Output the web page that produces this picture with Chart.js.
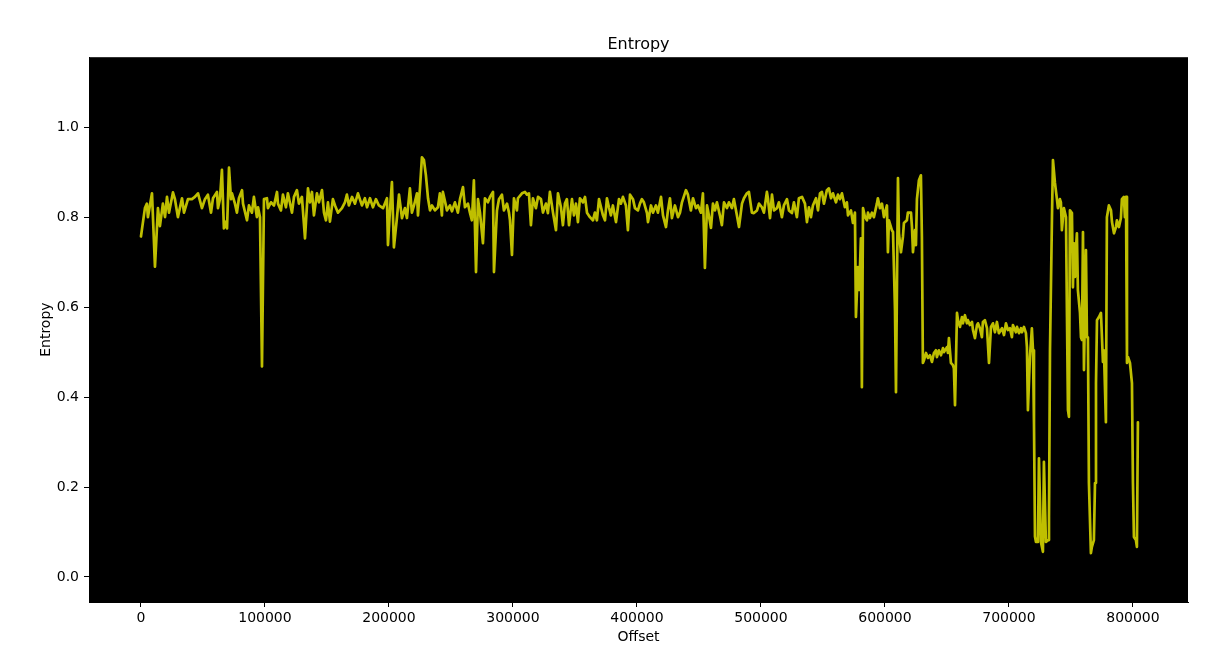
<!DOCTYPE html>
<html>
<head>
<meta charset="utf-8">
<script src="https://cdn.jsdelivr.net/npm/chart.js@4"></script>
<style>
html,body{margin:0;padding:0;background:#fff;}
#wrap{width:1229px;height:663px;}
</style>
</head>
<body>
<div id="wrap"><canvas id="c" width="1229" height="663"></canvas></div>
<script>
const chartTitle = "Entropy";
const xLabel = "Offset";
const yLabel = "Entropy";
const xTicks = [0, 100000, 200000, 300000, 400000, 500000, 600000, 700000, 800000];
const yTicks = [0.0, 0.2, 0.4, 0.6, 0.8, 1.0];

const offsets = [
0,3200,4800,5600,8900,11300,13700,15300,17700,19400,
21000,22600,25800,27400,29800,33100,34700,37900,41100,43500,
46000,49200,51600,54000,56500,58100,61300,62100,63700,65300,
66900,67700,69400,71000,72600,73400,75800,77400,79000,81500,
82300,85500,87100,89500,91100,93500,94400,96000,97600,99200,
101600,102400,104800,107300,109700,110500,112900,114500,116900,118500,
121800,123400,125800,127400,129800,132300,134700,136300,137900,139500,
141900,143500,146000,147600,149200,150800,152400,154800,156500,158900,
162100,164500,166100,167700,170200,172600,175000,178200,180600,182300,
184700,187100,189500,191900,195200,198400,199200,200800,202400,204000,
206500,208100,210500,212900,214500,216900,218500,220200,222600,223400,
225000,226600,228200,229800,231500,233100,234700,237100,239500,241100,
242700,243500,246800,249200,250800,253200,255600,257300,259700,261300,
263700,265300,266900,268500,270200,271800,273400,275800,277400,279800,
281500,283900,284700,287100,288700,291100,292700,295200,296800,297600,
299200,300800,303200,304000,307300,309700,311300,312900,314500,316100,
318500,320200,322600,324200,326600,328200,329800,332300,334700,336300,
338700,340300,341900,343500,345200,347600,349200,350800,352400,354000,
356500,358100,359700,362100,364500,366100,367700,369400,372600,374200,
375800,377400,379000,380600,383100,385500,387100,388700,391100,392700,
394400,396800,398400,400800,402400,404000,405600,408100,408900,411300,
412900,415300,416900,419400,421000,423400,425000,426600,428200,430600,
433100,434700,436300,439500,441100,443500,445200,447600,449200,451600,
453200,454800,456500,457300,459700,461300,462900,464500,466900,468500,
470200,472600,474200,476600,478200,480600,482300,484700,486300,488700,
490300,492700,494300,496800,498400,500800,502400,504800,505600,507300,
508900,510500,512900,514500,516900,518500,521000,522600,525000,526600,
529000,530600,533100,535500,537100,538700,540300,541900,544400,546000,
547600,549200,550800,553200,554800,556500,558100,560500,562100,563700,
565300,567700,569300,570200,572600,574200,575800,576600,578200,579000,
579800,580600,581400,582300,583900,585500,586300,587900,589500,591100,
593500,594300,596000,597600,599200,601600,602400,603200,605600,606500,
608100,608900,609700,610500,611300,612900,614500,615300,617700,618500,
621000,621800,622600,624200,625000,625800,627400,629000,629800,630600,
631500,633100,634700,636300,637900,639500,641100,641900,643500,645200,
646800,647600,650000,650800,651600,653200,654800,655600,656500,658100,
658900,660500,662100,662900,664500,666100,666900,668500,670200,671000,
672600,674200,675000,676600,678200,679000,680600,682300,683900,685500,
687100,688700,690300,691900,694400,696000,697600,699200,700800,702400,
703200,705600,706500,708100,709700,710500,712100,713700,714500,715300,
716900,717700,718500,719400,720200,721000,721800,723400,724200,725800,
727400,728200,729800,731500,732300,733100,734700,735500,737100,738700,
739500,741100,741900,742700,744300,746000,746800,747600,748400,749200,
750800,751600,752400,753200,754000,754800,755600,757300,758100,758900,
759700,760500,762100,762900,763700,764500,766100,766900,768500,769400,
770200,771000,772600,774200,775800,776600,778200,779000,780600,782300,
783100,784700,786300,787100,788700,790300,791100,792700,793500,794400,
795200,796000,797600,799200,800000,800800,802400,803200,804000
];

const entropy = [
0.757,0.82,0.83,0.80,0.853,0.69,0.82,0.78,0.83,0.80,
0.845,0.81,0.855,0.84,0.80,0.842,0.81,0.84,0.84,0.845,
0.853,0.82,0.84,0.85,0.81,0.842,0.856,0.82,0.84,0.905,
0.775,0.79,0.775,0.91,0.84,0.853,0.83,0.81,0.842,0.86,
0.83,0.793,0.826,0.81,0.845,0.80,0.822,0.80,0.468,0.84,
0.842,0.82,0.833,0.826,0.856,0.83,0.815,0.85,0.822,0.853,
0.81,0.845,0.86,0.83,0.845,0.753,0.864,0.833,0.856,0.804,
0.853,0.833,0.86,0.81,0.793,0.833,0.79,0.84,0.826,0.81,
0.82,0.833,0.85,0.826,0.845,0.83,0.853,0.826,0.842,0.822,
0.842,0.822,0.84,0.826,0.82,0.842,0.738,0.815,0.878,0.733,
0.80,0.85,0.798,0.82,0.798,0.864,0.81,0.826,0.853,0.804,
0.864,0.933,0.927,0.893,0.842,0.815,0.826,0.815,0.822,0.853,
0.804,0.856,0.815,0.826,0.813,0.833,0.81,0.84,0.867,0.822,
0.83,0.81,0.793,0.882,0.678,0.84,0.81,0.742,0.842,0.833,
0.845,0.856,0.678,0.815,0.84,0.85,0.815,0.83,0.81,0.793,
0.716,0.842,0.815,0.842,0.853,0.856,0.85,0.853,0.782,0.842,
0.82,0.845,0.84,0.81,0.83,0.809,0.856,0.81,0.771,0.853,
0.822,0.782,0.83,0.84,0.782,0.84,0.804,0.83,0.789,0.842,
0.833,0.845,0.81,0.80,0.793,0.81,0.793,0.84,0.804,0.793,
0.842,0.822,0.804,0.826,0.789,0.84,0.83,0.845,0.826,0.771,
0.85,0.84,0.82,0.815,0.83,0.84,0.833,0.809,0.789,0.826,
0.81,0.826,0.81,0.845,0.804,0.778,0.815,0.842,0.798,0.826,
0.80,0.81,0.833,0.86,0.85,0.815,0.842,0.82,0.826,0.81,
0.853,0.687,0.826,0.815,0.776,0.83,0.815,0.833,0.804,0.782,
0.833,0.82,0.833,0.82,0.84,0.804,0.778,0.83,0.842,0.853,
0.856,0.81,0.809,0.815,0.83,0.822,0.81,0.856,0.842,0.798,
0.85,0.815,0.82,0.833,0.80,0.826,0.84,0.815,0.809,0.833,
0.80,0.842,0.845,0.83,0.789,0.822,0.80,0.826,0.842,0.815,
0.853,0.856,0.83,0.86,0.864,0.842,0.853,0.833,0.85,0.84,
0.853,0.822,0.833,0.804,0.815,0.787,0.81,0.578,0.689,0.638,
0.682,0.753,0.422,0.82,0.80,0.793,0.81,0.798,0.81,0.80,
0.83,0.842,0.82,0.83,0.80,0.826,0.722,0.793,0.771,0.767,
0.593,0.411,0.653,0.887,0.764,0.722,0.756,0.787,0.793,0.81,
0.81,0.778,0.722,0.771,0.738,0.84,0.882,0.893,0.756,0.476,
0.482,0.498,0.487,0.493,0.478,0.498,0.504,0.489,0.504,0.493,
0.509,0.50,0.511,0.498,0.531,0.476,0.471,0.464,0.382,0.587,
0.571,0.556,0.578,0.564,0.582,0.564,0.571,0.56,0.567,0.549,
0.531,0.56,0.564,0.553,0.533,0.567,0.571,0.553,0.476,0.556,
0.564,0.544,0.567,0.542,0.553,0.538,0.564,0.549,0.553,0.533,
0.56,0.544,0.556,0.542,0.553,0.544,0.556,0.542,0.511,0.371,
0.489,0.52,0.553,0.504,0.34,0.09,0.078,0.078,0.264,0.078,
0.056,0.256,0.078,0.082,0.133,0.504,0.80,0.927,0.876,0.84,
0.82,0.84,0.833,0.771,0.82,0.80,0.578,0.371,0.356,0.815,
0.809,0.644,0.742,0.667,0.727,0.764,0.638,0.587,0.533,0.527,
0.767,0.46,0.727,0.533,0.533,0.209,0.053,0.067,0.082,0.209,
0.431,0.571,0.578,0.587,0.478,0.504,0.344,0.80,0.826,0.815,
0.789,0.764,0.778,0.793,0.778,0.798,0.84,0.845,0.80,0.845,
0.476,0.489,0.476,0.431,0.209,0.089,0.082,0.067,0.344
];

const FONT = "'DejaVu Sans', sans-serif";

const bgPlugin = {
  id: 'bg',
  beforeDraw(chart) {
    const ctx = chart.ctx, a = chart.chartArea;
    ctx.save();
    ctx.fillStyle = '#ffffff';
    ctx.fillRect(0, 0, chart.width, chart.height);
    ctx.fillStyle = '#000000';
    ctx.fillRect(a.left, a.top, a.right - a.left, a.bottom - a.top);
    ctx.restore();
  }
};

new Chart(document.getElementById('c'), {
  type: 'line',
  data: {
    datasets: [{
      label: yLabel,
      data: offsets.map((x, i) => ({x: x, y: entropy[i]})),
      borderColor: 'rgb(191,191,0)',
      borderWidth: 2.7,
      pointRadius: 0,
      tension: 0,
      fill: false,
      borderJoinStyle: 'round',
      borderCapStyle: 'round'
    }]
  },
  options: {
    responsive: false,
    devicePixelRatio: 1,
    animation: false,
    layout: { padding: { left: 0, right: 41, top: 0, bottom: 0 } },
    plugins: {
      legend: { display: false },
      tooltip: { enabled: false },
      title: {
        display: true,
        fullSize: false,
        text: chartTitle,
        color: '#000',
        font: { family: FONT, size: 16, weight: 'normal' },
        padding: { top: 35, bottom: 3 }
      }
    },
    scales: {
      x: {
        type: 'linear',
        min: -41900,
        max: 844400,
        afterFit(s) { s.height = 61; },
        afterBuildTicks(s) { s.ticks = xTicks.map(v => ({value: v})); },
        ticks: {
          color: '#000',
          font: { family: FONT, size: 14 },
          padding: 3,
          maxRotation: 0,
          autoSkip: false,
          callback: v => String(Math.round(v))
        },
        grid: { display: true, drawOnChartArea: false, drawTicks: true, tickLength: 5, color: '#000' },
        border: { display: true, color: '#000' },
        title: {
          display: true, text: xLabel, color: '#000',
          font: { family: FONT, size: 14 },
          padding: { top: 0, bottom: 17 }
        }
      },
      y: {
        type: 'linear',
        min: -0.0556,
        max: 1.1556,
        afterFit(s) { s.width = 89; },
        afterBuildTicks(s) { s.ticks = yTicks.map(v => ({value: v})); },
        ticks: {
          color: '#000',
          font: { family: FONT, size: 14 },
          padding: 5,
          autoSkip: false,
          callback: v => Number(v).toFixed(1)
        },
        grid: { display: true, drawOnChartArea: false, drawTicks: true, tickLength: 5, color: '#000' },
        border: { display: true, color: '#000' },
        title: {
          display: true, text: yLabel, color: '#000',
          font: { family: FONT, size: 14 },
          padding: { top: 38, bottom: 0 }
        }
      }
    }
  },
  plugins: [bgPlugin]
});
</script>
</body>
</html>
